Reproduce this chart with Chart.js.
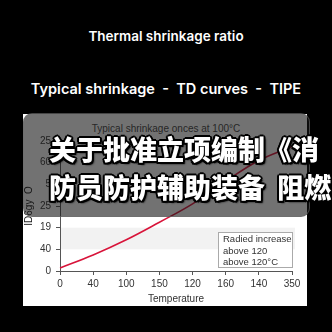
<!DOCTYPE html>
<html>
  <head>
    <meta charset="utf-8">
    <script src="https://cdn.jsdelivr.net/npm/chart.js"></script>
    <style>
      body { margin: 0; background: #000; width: 332px; height: 332px; overflow: hidden; position: relative; }
      .head { position: absolute; left: 0; width: 332px; text-align: center; color: #fff;
              font-family: Inter, "Open Sans", sans-serif; font-weight: 600; white-space: nowrap; }
      #panel { position: absolute; left: 23px; top: 114px; width: 284px; height: 192px; background: #fff; }
      #chartTitle { position: absolute; left: 23px; width: 284px; top: 123px; text-align: center;
                    font: 10px "Liberation Sans", Arial, sans-serif; color: #444; margin-left: 1px; }
      canvas { position: absolute; left: 0; top: 0; }
      #banner { position: absolute; left: 23px; top: 113px; width: 287px; height: 104px; border-radius: 9px;
                background: rgba(20, 20, 20, 0.6); box-sizing: border-box; border: 1px solid rgba(110,110,110,0.6); }
      .cn { position: absolute; left: 49px; color: #fff; white-space: nowrap;
            font-family: "Noto Sans CJK SC", sans-serif; font-weight: 900; font-size: 27px; line-height: 38px;
            text-shadow: -2px 0 #000, 2px 0 #000, 0 -2px #000, 0 2px #000, -1.5px -1.5px #000, 1.5px 1.5px #000,
                         -1.5px 1.5px #000, 1.5px -1.5px #000, 2px 2px 2px #000; }
    </style>
  </head>
  <body>
    <div class="head" style="top:28px; font-size:13.5px;">Thermal shrinkage ratio</div>
    <div class="head" style="top:80px; font-size:14.5px;">Typical shrinkage&nbsp; -&nbsp; TD curves&nbsp; -&nbsp; TIPE</div>
    <div id="panel"></div>
    <div id="chartTitle">Typical shrinkage onces at 100°C</div>
    <canvas id="myChart" width="332" height="332"></canvas>
    <div id="banner"></div>
    <div class="cn" style="top:130px;">关于批准立项编制《消</div>
    <div class="cn" style="top:168px; word-spacing:6px;">防员防护辅助装备 阻燃</div>
    <script>
      // Tick labels as printed on the original figure
      const xLabels = ['0', '40', '100', '150', '120', '160', '140', '350'];
      const yLabels = ['0', '40', '19', '25', '5', '60', '25'];

      // Shrinkage curve, in y tick steps, one value per x label
      const shrinkage = [0.14, 0.74, 1.44, 2.25, 3.1, 4.14, 5.1, 5.74];

      const legendLines = ['Radied increase', 'above 120', 'above 120°C'];

      // light band behind the plot between 2nd and 3rd gridline
      const bandPlugin = {
        id: 'band',
        beforeDatasetsDraw(chart) {
          const { ctx, chartArea, scales } = chart;
          const y1 = scales.y.getPixelForValue(2);
          const y2 = scales.y.getPixelForValue(1);
          ctx.save();
          ctx.fillStyle = '#f2f2f2';
          ctx.fillRect(chartArea.left + 1, y1, chartArea.right - chartArea.left + 2, y2 - y1);
          ctx.restore();
        }
      };

      // boxed note in the lower right corner
      const notePlugin = {
        id: 'note',
        afterDatasetsDraw(chart) {
          const { ctx, chartArea } = chart;
          const w = 74, h = 35;
          const x = chartArea.right - w;
          const y = chartArea.bottom - 4 - h;
          ctx.save();
          ctx.fillStyle = '#fff';
          ctx.fillRect(x, y, w, h);
          ctx.strokeStyle = '#aaa';
          ctx.lineWidth = 1;
          ctx.strokeRect(x + 0.5, y + 0.5, w, h);
          ctx.fillStyle = '#333';
          ctx.font = '9.5px "Liberation Sans", Arial, sans-serif';
          ctx.textBaseline = 'middle';
          legendLines.forEach((t, i) => ctx.fillText(t, x + 5, y + 7.5 + i * 11.5));
          ctx.restore();
        }
      };

      const tickFont = { family: '"Liberation Sans", Arial, sans-serif', size: 10 };

      new Chart(document.getElementById('myChart'), {
        type: 'line',
        data: {
          labels: xLabels,
          datasets: [{
            data: shrinkage,
            borderColor: '#d8143a',
            borderWidth: 1.6,
            pointRadius: 0,
            fill: false,
            tension: 0.4
          }]
        },
        options: {
          responsive: false,
          animation: false,
          layout: { padding: { left: 23, right: 40, top: 141, bottom: 0 } },
          plugins: { legend: { display: false }, tooltip: { enabled: false } },
          scales: {
            x: {
              type: 'category',
              offset: false,
              afterFit: (s) => { s.height = 61; },
              grid: { drawOnChartArea: false, drawTicks: true, tickLength: 4, color: '#555' },
              border: { display: true, color: '#555' },
              ticks: { font: tickFont, color: '#333', padding: 3, maxRotation: 0, autoSkip: false },
              title: { display: true, text: 'Temperature', font: tickFont, color: '#333', padding: { top: 0, bottom: 27 } }
            },
            y: {
              min: 0,
              max: 6,
              afterFit: (s) => { s.width = 37; },
              grid: { drawOnChartArea: false, drawTicks: true, tickLength: 4, color: '#555' },
              border: { display: true, color: '#555' },
              ticks: { stepSize: 1, font: tickFont, color: '#333', padding: 5,
                       callback: (v) => yLabels[v] },
              title: { display: true, text: 'ID6gy  O', font: { family: tickFont.family, size: 10, lineHeight: 1.2 }, color: '#222', padding: { top: 0, bottom: 0 } }
            }
          }
        },
        plugins: [bandPlugin, notePlugin]
      });
    </script>
  </body>
</html>
